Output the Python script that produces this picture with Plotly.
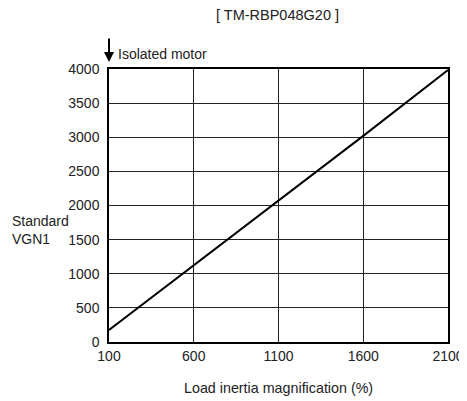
import plotly.graph_objects as go

x_vals = [100, 600, 1100, 1600, 2100]
y_vals = [175, 1120, 2070, 3020, 3985]
x_ticks = [100, 600, 1100, 1600, 2100]
y_ticks = [0, 500, 1000, 1500, 2000, 2500, 3000, 3500, 4000]

FONT = "Liberation Sans, Arial, sans-serif"
FS = 14
TXT = "#222"

# the page body has an 8px margin, so the figure is sized to fill the rest of the window
fig = go.Figure()
fig.add_trace(go.Scatter(x=x_vals, y=y_vals, mode="lines",
                         line=dict(color="black", width=2), showlegend=False,
                         hoverinfo="skip"))

fig.update_layout(
    width=459, height=393,
    margin=dict(l=101, r=19, t=61, b=59, autoexpand=False),
    paper_bgcolor="white", plot_bgcolor="white",
    font=dict(family=FONT, size=FS, color=TXT),
    xaxis=dict(range=[100, 2100], tickvals=x_ticks, ticktext=[str(v) for v in x_ticks],
               showgrid=True, gridcolor="#222", gridwidth=1,
               showline=True, linecolor="black", linewidth=1.5, mirror=True,
               ticks="", zeroline=False, automargin=False,
               tickfont=dict(size=FS, family=FONT, color=TXT)),
    yaxis=dict(range=[0, 4000], tickvals=y_ticks, ticktext=[str(v) for v in y_ticks],
               showgrid=True, gridcolor="#222", gridwidth=1,
               showline=True, linecolor="black", linewidth=1.5, mirror=True,
               ticks="", zeroline=False, automargin=False, ticklabelstandoff=5,
               tickfont=dict(size=FS, family=FONT, color=TXT)),
    annotations=[
        dict(text="[ TM-RBP048G20 ]", xref="paper", yref="paper", x=(277.5 - 109) / 339,
             y=1.0, yanchor="middle", yshift=54, showarrow=False,
             font=dict(size=14.5, family=FONT, color=TXT)),
        dict(text="Isolated motor", xref="paper", yref="paper", x=0.0, y=1.0,
             xshift=7, yshift=15, xanchor="left", yanchor="middle", showarrow=False,
             font=dict(size=FS, family=FONT, color=TXT)),
        dict(text="Load inertia magnification (%)", xref="paper", yref="paper",
             x=0.5, y=0.0, yshift=-46, yanchor="middle", showarrow=False,
             font=dict(size=14.3, family=FONT, color=TXT)),
        dict(text="Standard<br>VGN1", xref="paper", yref="paper", x=0.0, y=(342 - 230) / 273,
             xshift=-99, xanchor="left", yanchor="middle", align="left", showarrow=False,
             font=dict(size=FS, family=FONT, color=TXT)),
        dict(text="", xref="paper", yref="paper", x=0.0, y=(342 - 62) / 273, ax=0, ay=-25,
             showarrow=True, arrowhead=2, arrowsize=1, arrowwidth=2, arrowcolor="black"),
    ],
)

fig.write_html("out.html")
